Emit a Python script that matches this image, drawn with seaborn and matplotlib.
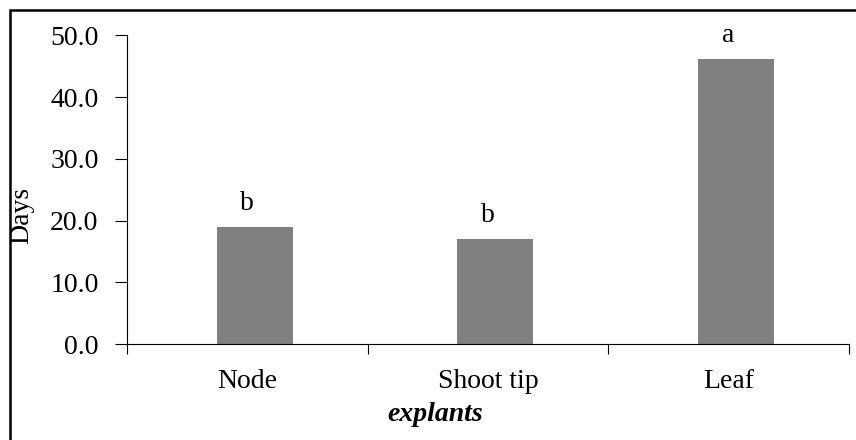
import matplotlib
matplotlib.use("Agg")
import matplotlib.pyplot as plt
import seaborn as sns
import pandas as pd
from matplotlib.patches import Rectangle

# Days to response per explant type, with significance letters
explants = ["Node", "Shoot tip", "Leaf"]
days = [19.0, 17.0, 46.2]
letters = ["b", "b", "a"]
yticks = [0, 10, 20, 30, 40, 50]

sns.set_style("ticks", rc={"text.color": "black", "xtick.color": "black",
                           "ytick.color": "black", "axes.labelcolor": "black",
                           "axes.edgecolor": "black"})
plt.rcParams["font.family"] = ["Liberation Serif", "DejaVu Serif"]

df = pd.DataFrame({"explant": explants, "days": days})

W, H = 856, 440
fig = plt.figure(figsize=(W / 100, H / 100), dpi=100)
ax = fig.add_axes([127 / W, 1 - 344 / H, (849 - 127) / W, (344 - 35.5) / H])

sns.barplot(data=df, x="explant", y="days", color="#808080", saturation=1,
            width=0.316, linewidth=0, ax=ax)

# category labels sit slightly left of the bars, separators between categories
shift = -0.03
n = len(explants)
ax.set_xlim(-0.53, n - 0.53)
ax.set_xticks([i + shift for i in range(n)], explants)
ax.set_xticks([i - 0.53 for i in range(n + 1)], minor=True)
ax.tick_params(axis="x", which="major", bottom=True, length=0, pad=18, labelsize=20)
ax.tick_params(axis="x", which="minor", bottom=True, length=7.5, width=0.8,
               direction="out", color="black")

ax.set_ylim(0, 50)
ax.set_yticks(yticks, [f"{t:.1f}" for t in yticks])
ax.tick_params(axis="y", left=True, length=8.5, width=0.8, direction="out",
               pad=12, labelsize=20, color="black")

ax.set_xlabel("")
ax.set_ylabel("")

for side in ["top", "right"]:
    ax.spines[side].set_visible(False)
for side in ["left", "bottom"]:
    ax.spines[side].set_linewidth(0.8)
    ax.spines[side].set_color("black")

for i, (v, s) in enumerate(zip(days, letters)):
    ax.text(i + shift, v + 2.75, s, ha="center", va="baseline", fontsize=20, color="black")

fig.text(22 / W, 1 - 215 / H, "Days", rotation=90, ha="center", va="center",
         fontsize=20, color="black")
fig.text(435 / W, 1 - 421 / H, "explants", ha="center", va="baseline",
         fontsize=20, fontweight="bold", fontstyle="italic", color="black")

# outer frame around the chart area
fig.patches.append(Rectangle((10 / W, -0.1), 1.2, 1 - 10.5 / H + 0.1, fill=False,
                             lw=1.8, ec="black", transform=fig.transFigure, figure=fig))

fig.savefig("out.png", dpi=100)
